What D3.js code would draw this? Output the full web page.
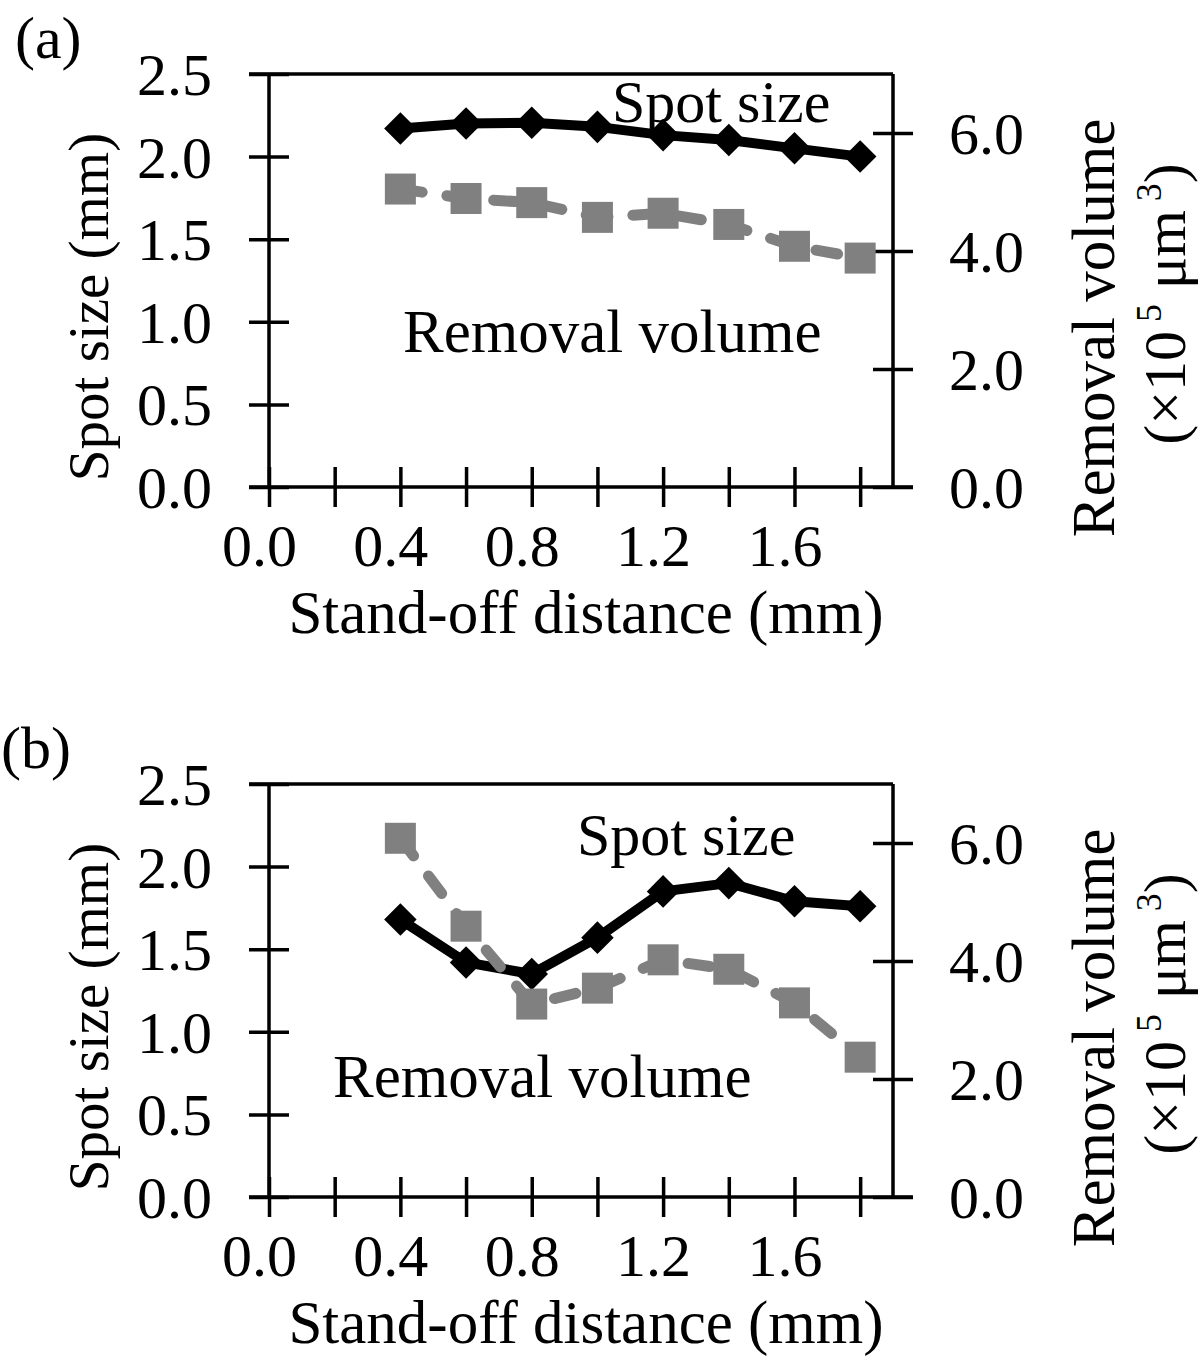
<!DOCTYPE html>
<html>
<head>
<meta charset="utf-8">
<script src="https://cdn.jsdelivr.net/npm/d3@7"></script>
<style>
  body { margin: 0; background: #fff; }
  svg { display: block; }
  text { font-family: "Liberation Serif", "Times New Roman", serif; fill: #000; }
</style>
</head>
<body>
<svg id="chart" width="1200" height="1365"></svg>
<script>
// ---------- data ----------
const standOff = [0.4, 0.6, 0.8, 1.0, 1.2, 1.4, 1.6, 1.8];
const spotSizeA = [2.17, 2.20, 2.205, 2.18, 2.13, 2.10, 2.05, 2.00];
const removalA  = [5.05, 4.89, 4.82, 4.57, 4.64, 4.45, 4.08, 3.88];
const spotSizeB = [1.68, 1.42, 1.35, 1.57, 1.85, 1.90, 1.79, 1.76];
const removalB  = [6.08, 4.59, 3.27, 3.54, 4.02, 3.86, 3.29, 2.37];
const xTicks = [0, 0.2, 0.4, 0.6, 0.8, 1.0, 1.2, 1.4, 1.6, 1.8];
const xTickLabels = ["0.0", "0.4", "0.8", "1.2", "1.6"];
const yLeftTicks = [0, 0.5, 1.0, 1.5, 2.0, 2.5];
const yRightTicks = [0, 2, 4, 6];
const panels = [
  { tag: "(a)", spot: spotSizeA, vol: removalA, offset: 0, tagX: 15,
    spotLbl: [612, 122], volLbl: [403, 352] },
  { tag: "(b)", spot: spotSizeB, vol: removalB, offset: 710, tagX: 1,
    spotLbl: [577, 855 - 710], volLbl: [333, 1097 - 710] }
];

const svg = d3.select("#chart");
const FS = 60;
const x = d3.scaleLinear().domain([0, 1.9]).range([269, 893]);
const yL = d3.scaleLinear().domain([0, 2.5]).range([487, 74]);
const yR = d3.scaleLinear().domain([0, 7]).range([487, 74]);
const AX = 3.5, TK = 20;

panels.forEach(p => {
  const g = svg.append("g").attr("transform", `translate(0,${p.offset})`);

  // panel tag
  g.append("text").attr("x", p.tagX).attr("y", 58).attr("font-size", FS).text(p.tag);

  // frame: top border (extends left like a tick)
  g.append("line").attr("x1", x(0) - TK).attr("x2", x(1.9)).attr("y1", yL(2.5)).attr("y2", yL(2.5))
    .attr("stroke", "#000").attr("stroke-width", AX);

  // left axis
  const la = g.append("g").attr("transform", `translate(${x(0)},0)`)
    .call(d3.axisLeft(yL).tickValues(yLeftTicks).tickSize(TK).tickFormat(d3.format(".1f")));
  la.select(".domain").remove();
  la.selectAll(".tick line").attr("x1", -TK).attr("x2", TK).attr("stroke-width", AX);
  la.selectAll(".tick text").attr("x", -57).attr("dy", "0.34em").attr("font-size", FS)
    .attr("font-family", "Liberation Serif").attr("fill", "#000");
  la.append("line").attr("x1", 0).attr("x2", 0).attr("y1", yL(2.5)).attr("y2", yL(0))
    .attr("stroke", "#000").attr("stroke-width", AX);

  // right axis
  const ra = g.append("g").attr("transform", `translate(${x(1.9)},0)`)
    .call(d3.axisRight(yR).tickValues(yRightTicks).tickSize(TK).tickFormat(d3.format(".1f")));
  ra.select(".domain").remove();
  ra.selectAll(".tick line").attr("x1", -TK).attr("x2", TK).attr("stroke-width", AX);
  ra.selectAll(".tick text").attr("x", 56).attr("dy", "0.34em").attr("font-size", FS)
    .attr("text-anchor", "start").attr("font-family", "Liberation Serif").attr("fill", "#000");
  ra.append("line").attr("x1", 0).attr("x2", 0).attr("y1", yR(7)).attr("y2", yR(0))
    .attr("stroke", "#000").attr("stroke-width", AX);

  // bottom axis
  const ba = g.append("g").attr("transform", `translate(0,${yL(0)})`)
    .call(d3.axisBottom(x).tickValues(xTicks).tickSize(TK)
      .tickFormat(d => { const s = d3.format(".1f")(d); return xTickLabels.includes(s) ? s : ""; }));
  ba.select(".domain").remove();
  ba.selectAll(".tick line").attr("y1", -TK).attr("y2", TK).attr("stroke-width", AX);
  ba.selectAll(".tick text").attr("y", 79).attr("dy", 0).attr("dx", -10).attr("font-size", FS)
    .attr("font-family", "Liberation Serif").attr("fill", "#000");
  ba.append("line").attr("x1", x(0) - TK).attr("x2", x(1.9) + TK).attr("y1", 0).attr("y2", 0)
    .attr("stroke", "#000").attr("stroke-width", AX);

  // axis titles
  g.append("text").attr("x", 586).attr("y", 633).attr("text-anchor", "middle")
    .attr("font-size", 61).text("Stand-off distance (mm)");
  g.append("text").attr("transform", `translate(108,307) rotate(-90)`).attr("text-anchor", "middle")
    .attr("font-size", 57).text("Spot size (mm)");
  g.append("text").attr("transform", `translate(1114,328) rotate(-90)`).attr("text-anchor", "middle")
    .attr("font-size", 61).text("Removal volume");
  const t2 = g.append("text").attr("transform", `translate(1185,304) rotate(-90)`).attr("text-anchor", "middle")
    .attr("font-size", FS);
  t2.append("tspan").text("(×10");
  t2.append("tspan").attr("font-size", 36).attr("dy", -24).text(" 5");
  t2.append("tspan").attr("dy", 24).text(" μm");
  t2.append("tspan").attr("font-size", 36).attr("dy", -24).text(" 3");
  t2.append("tspan").attr("dy", 24).text(")");

  // series: spot size (black, solid, diamonds)
  const pts = standOff.map((s, i) => ({ x: s, s: p.spot[i], v: p.vol[i] }));
  g.append("path").datum(pts)
    .attr("d", d3.line().x(d => x(d.x)).y(d => yL(d.s)))
    .attr("fill", "none").attr("stroke", "#000").attr("stroke-width", 10).attr("stroke-linejoin", "round");
  g.selectAll(".dia").data(pts).enter().append("path")
    .attr("d", d3.symbol().type(d3.symbolSquare).size(23 * 23))
    .attr("transform", d => `translate(${x(d.x)},${yL(d.s)}) rotate(45)`)
    .attr("fill", "#000");

  // series: removal volume (gray, dashed, squares)
  g.append("path").datum(pts)
    .attr("d", d3.line().x(d => x(d.x)).y(d => yR(d.v)))
    .attr("fill", "none").attr("stroke", "#808080").attr("stroke-width", 11)
    .attr("stroke-dasharray", "22 25").attr("stroke-linecap", "round").attr("stroke-linejoin", "round");
  g.selectAll(".sq").data(pts).enter().append("rect")
    .attr("x", d => x(d.x) - 15.5).attr("y", d => yR(d.v) - 15.5)
    .attr("width", 31).attr("height", 31).attr("fill", "#808080");

  // in-plot labels
  g.append("text").attr("x", p.spotLbl[0]).attr("y", p.spotLbl[1]).attr("font-size", FS).text("Spot size");
  g.append("text").attr("x", p.volLbl[0]).attr("y", p.volLbl[1]).attr("font-size", 61).text("Removal volume");
});
</script>
</body>
</html>
